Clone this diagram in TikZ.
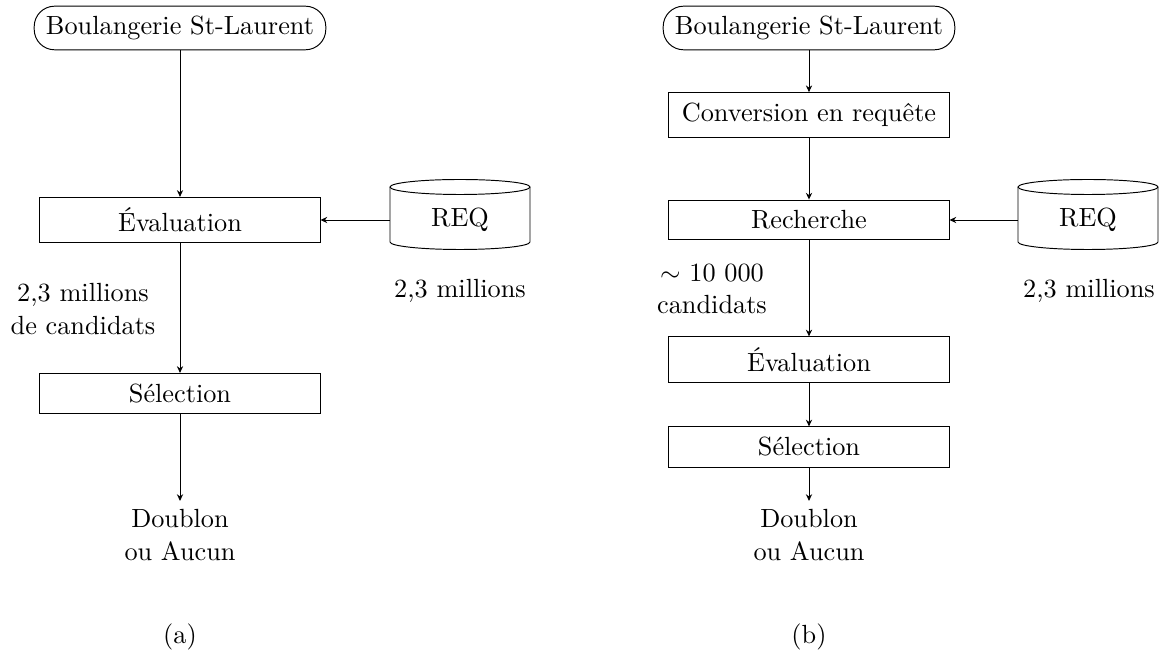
\documentclass[tikz,border=0pt]{standalone}
\usetikzlibrary{arrows.meta}
\begin{document}
\begin{tikzpicture}[x=0.41667pt, y=0.41667pt,
  every node/.style={font=\fontsize{10.95}{13.6}\selectfont},
  startbox/.style={draw, rounded corners=8.5pt, inner xsep=4.9pt, inner ysep=4.1pt},
  procbox/.style={draw, minimum width=116.7pt, inner ysep=4.4pt},
  dbnode/.style={minimum width=58.3pt, minimum height=16pt, inner sep=0pt},
  lbl/.style={align=center},
  flow/.style={-{Stealth[length=2.8pt, width=2.6pt]}}]
\useasboundingbox (0,0) rectangle (1159,653);

% cylinder outline drawn around a database node
\newcommand{\dbshape}[1]{%
  \draw[shift={(#1.center)}] (-70,33) -- (-70,-22)
    arc[start angle=180, end angle=360, x radius=70, y radius=7.5] -- (70,33);
  \draw[shift={(#1.center)}] (0,33) ellipse [x radius=70, y radius=7.5];}

% ---- (a) ----
\node[startbox] (b1) at (180,625) {Boulangerie St-Laurent};
\node[procbox] (e1) at (180,433) {Évaluation};
\node[procbox] (s1) at (180,259.5) {Sélection};
\node[lbl] (d1) at (180,118) {Doublon\\ou Aucun};
\node[dbnode] (q1) at (460,433) {REQ};
\dbshape{q1}
\node[lbl] (n1) at (460,362) {2,3 millions};
\node[lbl] (c1) at (83,344) {2,3 millions\\de candidats};
\node (ta) at (180,16) {(a)};

\draw[flow] (b1) -- (e1);
\draw[flow] (q1) -- (e1);
\draw[flow] (e1) -- (s1);
\draw[flow] (s1) -- (d1);

% ---- (b) ----
\node[startbox] (b2) at (809,625) {Boulangerie St-Laurent};
\node[procbox] (v2) at (809,538) {Conversion en requête};
\node[procbox] (r2) at (809,433) {Recherche};
\node[procbox] (e2) at (809,293.5) {Évaluation};
\node[procbox] (s2) at (809,206) {Sélection};
\node[lbl] (d2) at (809,118) {Doublon\\ou Aucun};
\node[dbnode] (q2) at (1088,433) {REQ};
\dbshape{q2}
\node[lbl] (n2) at (1089,362) {2,3 millions};
\node[lbl] (c2) at (712,364) {$\sim$ 10 000\\candidats};
\node (tb) at (809,16) {(b)};

\draw[flow] (b2) -- (v2);
\draw[flow] (v2) -- (r2);
\draw[flow] (q2) -- (r2);
\draw[flow] (r2) -- (e2);
\draw[flow] (e2) -- (s2);
\draw[flow] (s2) -- (d2);
\end{tikzpicture}
\end{document}
